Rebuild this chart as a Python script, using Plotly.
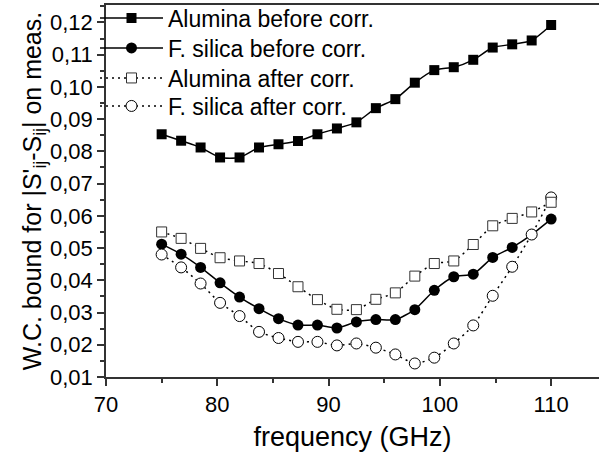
import plotly.graph_objects as go

freq = [75 + 1.75 * i for i in range(21)]

alumina_before = [0.0853, 0.0833, 0.0812, 0.0781, 0.0781, 0.0812, 0.0822, 0.0832, 0.0853, 0.0871,
                  0.0890, 0.0934, 0.0962, 0.1013, 0.1052, 0.1061, 0.1084, 0.1122, 0.1132, 0.1144, 0.1192]
silica_before = [0.0512, 0.0481, 0.0440, 0.0392, 0.0348, 0.0312, 0.0281, 0.0261, 0.0261, 0.0252,
                 0.0271, 0.0278, 0.0278, 0.0309, 0.0369, 0.0411, 0.0419, 0.0471, 0.0502, 0.0542, 0.0590]
alumina_after = [0.0550, 0.0530, 0.0499, 0.0470, 0.0460, 0.0452, 0.0421, 0.0380, 0.0340, 0.0310,
                 0.0309, 0.0341, 0.0361, 0.0413, 0.0452, 0.0460, 0.0511, 0.0569, 0.0592, 0.0612, 0.0642]
silica_after = [0.0480, 0.0440, 0.0390, 0.0330, 0.0289, 0.0240, 0.0221, 0.0209, 0.0209, 0.0198,
                0.0204, 0.0191, 0.0170, 0.0142, 0.0160, 0.0204, 0.0260, 0.0352, 0.0442, 0.0542, 0.0657]

x_ticks = [70, 80, 90, 100, 110]
y_ticks = [0.01, 0.02, 0.03, 0.04, 0.05, 0.06, 0.07, 0.08, 0.09, 0.10, 0.11, 0.12]

FONT = "Liberation Sans, Arial, sans-serif"

fig = go.Figure()
fig.add_trace(go.Scatter(
    x=freq, y=alumina_before, name="Alumina before corr.", mode="lines+markers",
    line=dict(color="black", width=1.5, shape="spline", smoothing=0.6),
    marker=dict(symbol="square", size=10, color="black"), legend="legend"))
fig.add_trace(go.Scatter(
    x=freq, y=silica_before, name="F. silica before corr.", mode="lines+markers",
    line=dict(color="black", width=1.5, shape="spline", smoothing=0.6),
    marker=dict(symbol="circle", size=11, color="black"), legend="legend2"))
fig.add_trace(go.Scatter(
    x=freq, y=silica_after, name="F. silica after corr.", mode="lines+markers",
    line=dict(color="black", width=1.5, shape="spline", smoothing=0.6, dash="2px,4px"),
    marker=dict(symbol="circle", size=11, color="white", line=dict(color="black", width=1)),
    legend="legend4"))
fig.add_trace(go.Scatter(
    x=freq, y=alumina_after, name="Alumina after corr.", mode="lines+markers",
    line=dict(color="black", width=1.5, shape="spline", smoothing=0.6, dash="2px,4px"),
    marker=dict(symbol="square", size=10, color="white", line=dict(color="#333333", width=1)),
    legend="legend3"))

def leg(ypix):
    return dict(x=-0.0223, y=(377 - ypix) / 372.0, xanchor="left", yanchor="middle",
                bgcolor="rgba(0,0,0,0)", font=dict(size=23, family=FONT),
                itemwidth=63)

fig.update_layout(
    width=599, height=452,
    margin=dict(l=106, r=0, t=5, b=75, autoexpand=False),
    plot_bgcolor="white", paper_bgcolor="white",
    separators=", ",
    font=dict(family=FONT, color="black", size=22),
    showlegend=True,
    legend=leg(18), legend2=leg(48), legend3=leg(78), legend4=leg(106),
    xaxis=dict(range=[70, 114.3], tickvals=x_ticks, ticktext=[str(v) for v in x_ticks],
               automargin=False,
               showline=True, linecolor="#333333", linewidth=1.5, mirror=True,
               ticks="outside", ticklen=7, tickwidth=1.5, tickcolor="#333333",
               minor=dict(ticks="outside", dtick=5, tick0=70, ticklen=4, tickwidth=1.5, tickcolor="#333333"),
               showgrid=False, zeroline=False,
               title=dict(text="frequency (GHz)", font=dict(size=27, family=FONT), standoff=11),
               tickfont=dict(size=22, family=FONT)),
    yaxis=dict(range=[0.01, 0.1254], tickvals=y_ticks, tickformat=".2f",
               automargin=False,
               showline=True, linecolor="#333333", linewidth=1.5, mirror=False,
               ticks="outside", ticklen=7, tickwidth=1.5, tickcolor="#333333",
               minor=dict(ticks="outside", dtick=0.005, tick0=0.01, ticklen=4, tickwidth=1.5, tickcolor="#333333"),
               showgrid=False, zeroline=False,
               title=dict(text="W.C. bound for |S'<sub>ij</sub>-S<sub>ij</sub>| on meas.",
                          font=dict(size=25, family=FONT), standoff=0),
               tickfont=dict(size=22, family=FONT)),
)

fig.write_html("out.html", config={"displayModeBar": False},
               post_script="document.body.style.margin='0';document.body.style.padding='0';")
